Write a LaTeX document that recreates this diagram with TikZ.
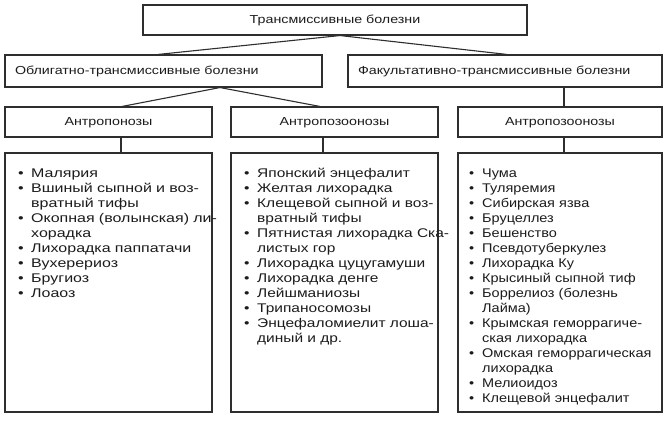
\documentclass[tikz,border=0pt]{standalone}
\usepackage{fontspec}
\setmainfont{Liberation Sans}[FakeStretch=1.23]
\newfontfamily\lfont{Liberation Sans}[FakeStretch=1.27]
\newfontfamily\rfont{Liberation Sans}[FakeStretch=1.15]
\usetikzlibrary{calc}
\definecolor{linec}{HTML}{2E2E2E}
\definecolor{textc}{HTML}{1C1C1C}
\newcommand{\bi}[1]{\makebox[13pt][l]{•}#1}
\newcommand{\ci}[1]{\hspace*{13pt}#1}
\begin{document}
\begin{tikzpicture}[x=1pt,y=-1pt,
  box/.style={draw=linec, line width=1.1pt, inner sep=0pt, text=textc,
    font=\fontsize{11.6}{13}\selectfont, text height=8.6pt, text depth=1.8pt},
  leftbox/.style={box, inner xsep=10pt, align=left},
  listbox/.style={draw=linec, line width=1.1pt, inner sep=0pt},
  listtext/.style={anchor=north west, inner sep=0pt, text=textc, text width=260pt,
    align=left, font=\fontsize{12.6}{15}\selectfont},
  conn/.style={draw=linec, line width=1.1pt}]
\path[use as bounding box] (0,0) rectangle (664,428);
\fill[white] (0,0) rectangle (664,428);

\node[box, minimum width=384pt, minimum height=30pt] (top) at (335,20) {Трансмиссивные болезни};

\node[leftbox, text width=297pt, minimum height=32pt] (obl) at (163.5,71) {Облигатно-трансмиссивные болезни};
\node[leftbox, text width=294pt, minimum height=32pt] (fak) at (505,71) {Факультативно-трансмиссивные болезни};

\node[box, minimum width=207pt, minimum height=30pt] (ap) at (108.5,122) {Антропонозы};
\node[box, minimum width=207pt, minimum height=30pt] (az1) at (334.5,122) {Антропозоонозы};
\node[box, minimum width=204pt, minimum height=30pt] (az2) at (560,122) {Антропозоонозы};

\node[listbox, minimum width=207pt, minimum height=259pt] (l1) at (108.5,282.5) {};
\node[listbox, minimum width=207pt, minimum height=259pt] (l2) at (334.5,282.5) {};
\node[listbox, minimum width=204pt, minimum height=259pt] (l3) at (560,282.5) {};

\node[listtext, font=\fontsize{12.6}{15}\lfont] (t1) at (18,165) {\rule{0pt}{12pt}\bi{Малярия}\\
\bi{Вшиный сыпной и воз-}\\
\ci{вратный тифы}\\
\bi{Окопная (волынская) ли-}\\
\ci{хорадка}\\
\bi{Лихорадка паппатачи}\\
\bi{Вухерериоз}\\
\bi{Бругиоз}\\
\bi{Лоаоз}};

\node[listtext] (t2) at (244,165) {\rule{0pt}{12pt}\bi{Японский энцефалит}\\
\bi{Желтая лихорадка}\\
\bi{Клещевой сыпной и воз-}\\
\ci{вратный тифы}\\
\bi{Пятнистая лихорадка Ска-}\\
\ci{листых гор}\\
\bi{Лихорадка цуцугамуши}\\
\bi{Лихорадка денге}\\
\bi{Лейшманиозы}\\
\bi{Трипаносомозы}\\
\bi{Энцефаломиелит лоша-}\\
\ci{диный и др.}};

\node[listtext, font=\fontsize{12.6}{15}\rfont] (t3) at (469,165) {\rule{0pt}{12pt}\bi{Чума}\\
\bi{Туляремия}\\
\bi{Сибирская язва}\\
\bi{Бруцеллез}\\
\bi{Бешенство}\\
\bi{Псевдотуберкулез}\\
\bi{Лихорадка Ку}\\
\bi{Крысиный сыпной тиф}\\
\bi{Боррелиоз (болезнь}\\
\ci{Лайма)}\\
\bi{Крымская геморрагиче-}\\
\ci{ская лихорадка}\\
\bi{Омская геморрагическая}\\
\ci{лихорадка}\\
\bi{Мелиоидоз}\\
\bi{Клещевой энцефалит}};

\draw[conn] ($(top.south)+(5,0)$) -- ($(obl.north)+(-5.5,0)$);
\draw[conn] ($(top.south)+(5,0)$) -- ($(fak.north)+(2,0)$);
\draw[conn] ($(obl.south)+(56.5,0)$) -- ($(ap.north)+(13.5,0)$);
\draw[conn] ($(obl.south)+(56.5,0)$) -- ($(az1.north)+(-14.5,0)$);
\draw[conn] ($(fak.south)+(59,0)$) -- ($(az2.north)+(4,0)$);
\draw[conn] ($(ap.south)+(12.5,0)$) -- ($(l1.north)+(12.5,0)$);
\draw[conn] ($(az1.south)+(-11.5,0)$) -- ($(l2.north)+(-11.5,0)$);
\draw[conn] ($(az2.south)+(4,0)$) -- ($(l3.north)+(4,0)$);
\end{tikzpicture}
\end{document}
